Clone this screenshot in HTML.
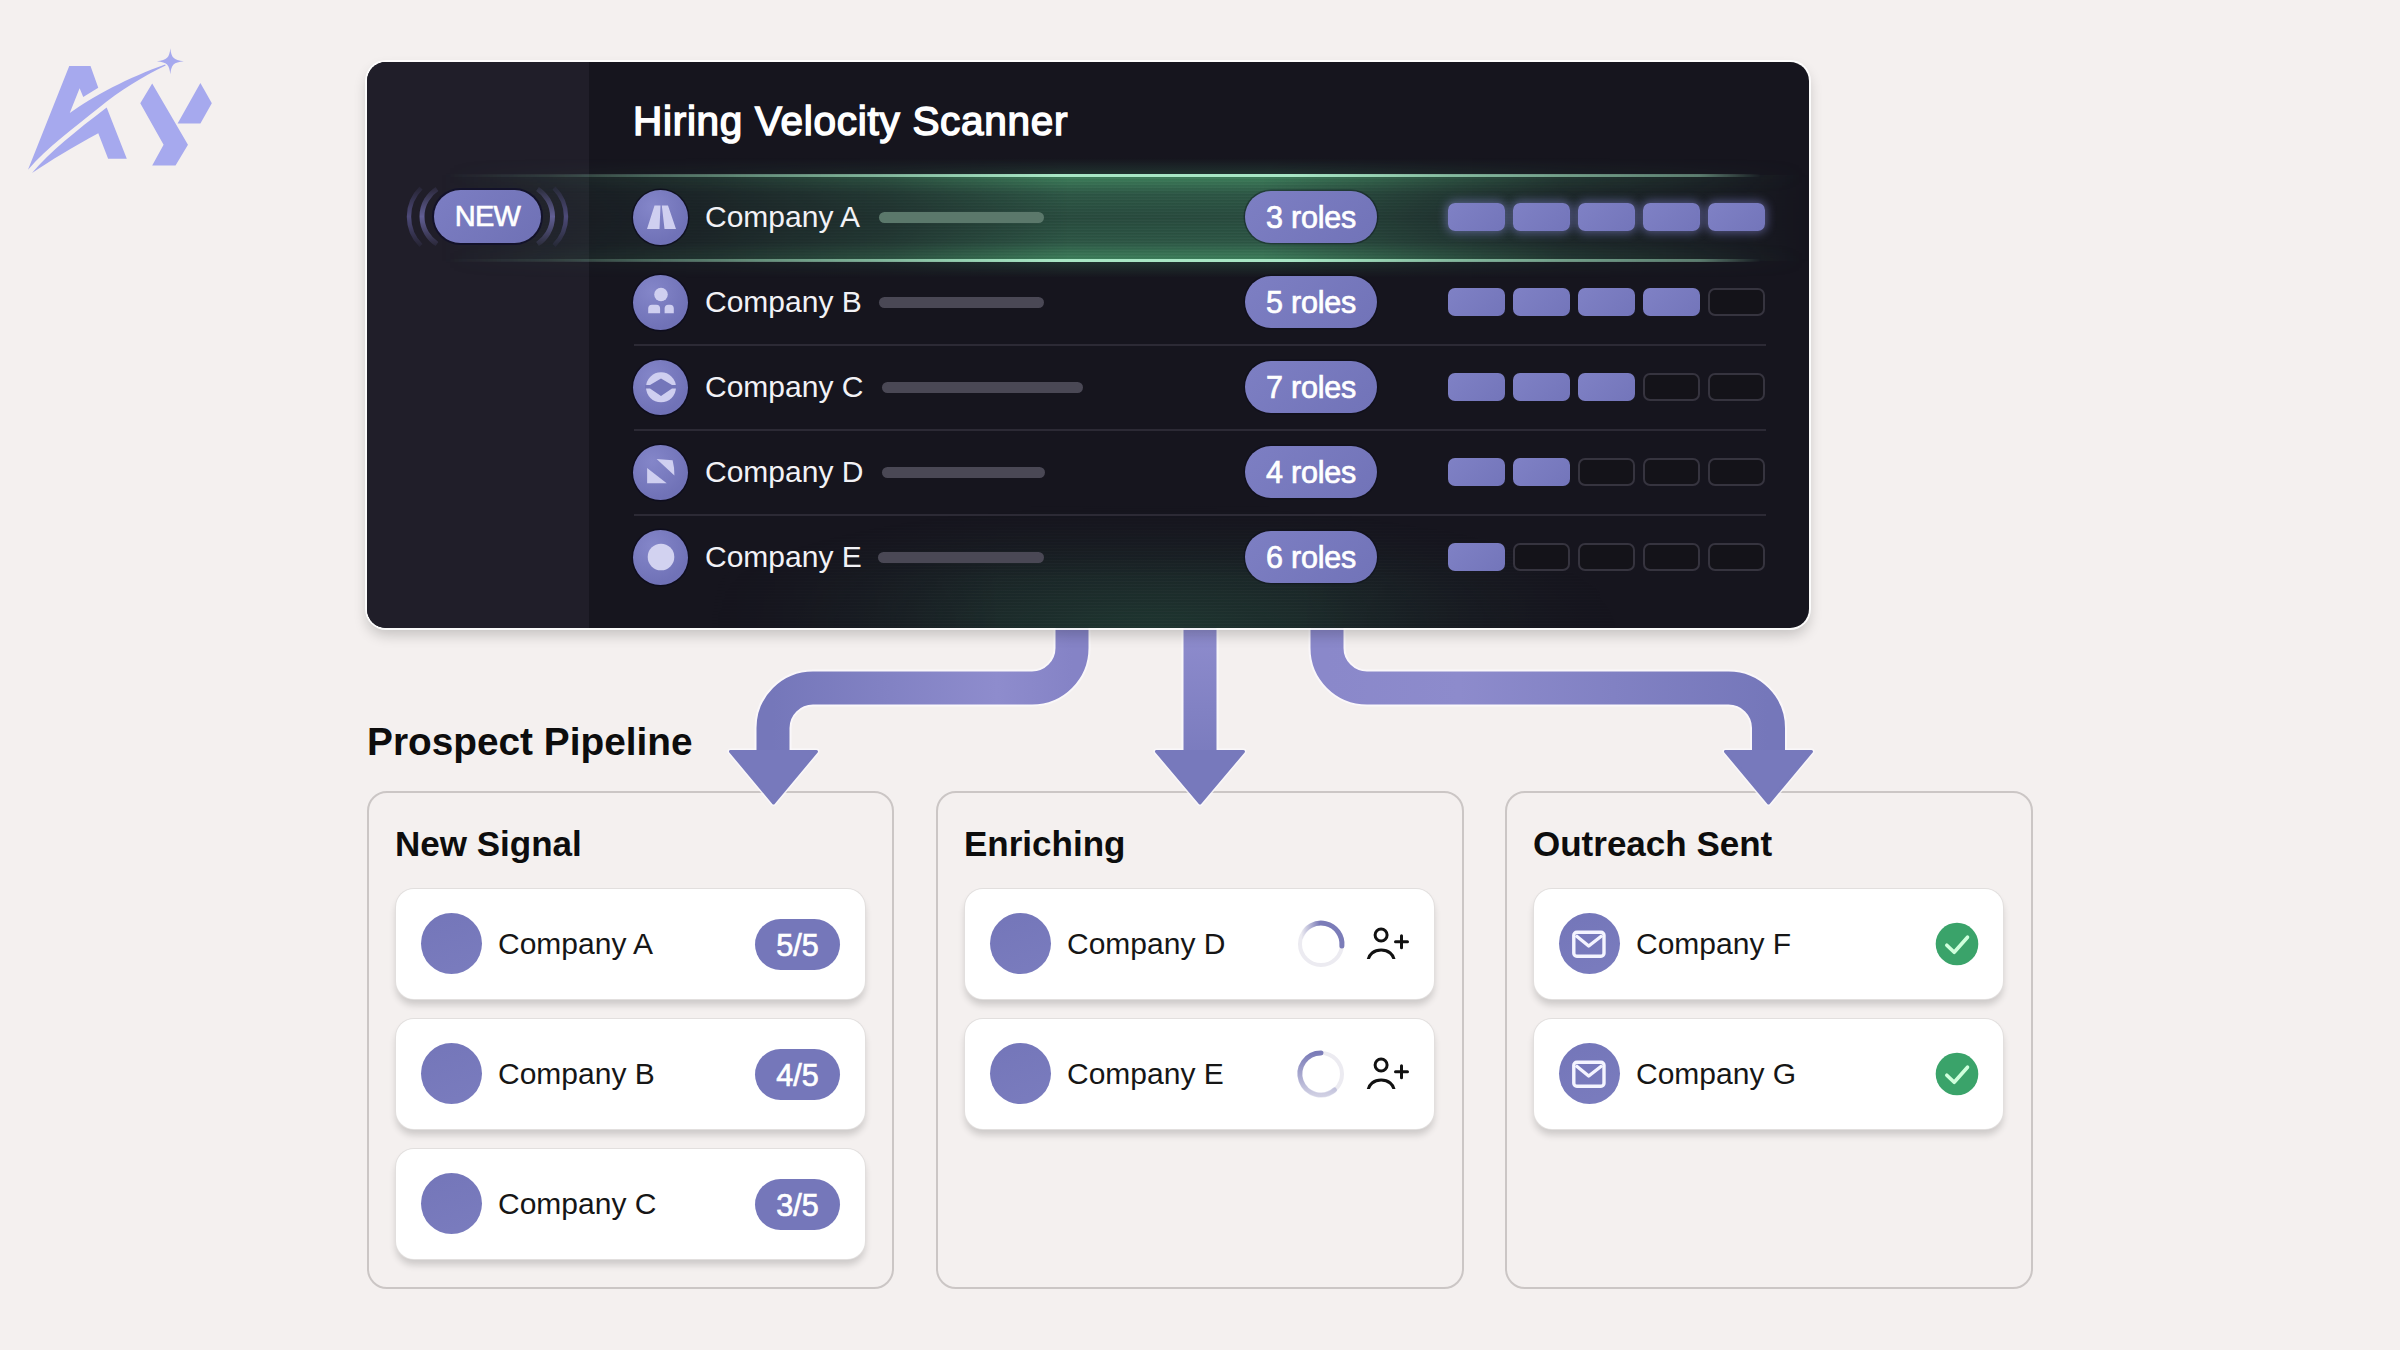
<!DOCTYPE html>
<html><head><meta charset="utf-8">
<style>
*{box-sizing:border-box;margin:0;padding:0}
html,body{width:2400px;height:1350px;overflow:hidden;background:#f4f0ef;font-family:"Liberation Sans",sans-serif;position:relative}
.abs{position:absolute}
#logo{left:20px;top:40px;width:200px;height:140px}
#arrows{left:0;top:0;width:2400px;height:1350px}
#panel{z-index:5;left:367px;top:62px;width:1442px;height:566px;border-radius:19px;background:#16151e;overflow:hidden;box-shadow:0 0 0 2px rgba(255,255,255,.9),0 7px 14px rgba(0,0,0,.2)}
#side{left:0;top:0;width:222px;height:566px;background:#201e29}
.title{left:266px;top:39px;font-size:40.5px;line-height:40px;color:#fff;letter-spacing:0.72px;-webkit-text-stroke:1.5px #fff;white-space:nowrap}
.cname{font-size:30px;line-height:30px;color:#f2f2f6;white-space:nowrap}
.ic{width:55px;height:55px;border-radius:50%;background:radial-gradient(circle at 35% 30%,#8486c9,#7072b7 70%);box-shadow:0 0 0 1.5px rgba(12,11,30,.8)}
.bar{height:11px;border-radius:6px;background:#4a4855}
.pill{width:132px;height:52px;border-radius:26px;background:linear-gradient(135deg,#7d7fc3,#7173b8);color:#fff;font-size:30.5px;line-height:52px;-webkit-text-stroke:0.7px #fff;letter-spacing:-0.2px;text-align:center;white-space:nowrap;box-shadow:0 0 0 1.5px rgba(10,10,25,.35)}
.seg{width:57px;height:28px;border-radius:7px}
.on{background:linear-gradient(135deg,#7f81c5,#7375ba)}
.off{border:2px solid #36343f;background:#141319}
.div{height:2px;background:#2c2a35}
.h2{font-size:38.8px;line-height:38.8px;font-weight:bold;color:#0d0d0d;white-space:nowrap}
.col{height:498.5px;border:2px solid #cbc6c5;border-radius:20px}
.ct{font-size:35px;line-height:35px;font-weight:bold;color:#0d0d0d;white-space:nowrap}
.card{width:469px;height:110px;border-radius:18px;background:#fff;box-shadow:0 0 0 1px #e2dfde,0 6px 7px rgba(0,0,0,.16)}
.cc{left:25px;top:24px;width:61px;height:61px;border-radius:50%;background:linear-gradient(160deg,#7476b9,#7a7cbe)}
.ctext{left:102px;top:40px;font-size:30px;line-height:30px;color:#161616;white-space:nowrap}
.sp{left:359px;top:30px;width:85px;height:51px;border-radius:26px;background:#7577ba;color:#fff;font-size:30.5px;line-height:53px;text-align:center;-webkit-text-stroke:0.7px #fff;letter-spacing:0px}
</style></head>
<body>

<!-- logo -->
<svg id="logo" class="abs" viewBox="0 0 1929 1350">
 <g fill="#a6a9ee">
  <path d="M77 1251 L475 250 L680 250 L755 460 L610 550 L575 465 L480 705 C700 540 1050 360 1400 235 L1405 245 C1200 345 950 490 764 652 C510 858 270 1032 77 1251 Z"/>
  <path d="M116 1283 C290 1078 540 878 836 652 L1030 1145 L850 1145 L755 900 C500 1040 300 1160 116 1283 Z"/>
  <path d="M1450 80 C1460 170 1480 195 1580 205 C1480 215 1460 240 1450 330 C1440 240 1420 215 1320 205 C1420 195 1440 170 1450 80 Z"/>
  <path d="M1275 420 L1160 610 L1385 1010 L1275 1210 L1500 1210 L1620 1010 Z"/>
  <path d="M1740 415 L1850 610 L1740 805 L1520 805 Z"/>
 </g>
</svg>

<!-- panel -->
<div id="panel" class="abs">
 <div id="side" class="abs"></div>
 <div class="abs title">Hiring Velocity Scanner</div>
<div class="abs" style="left:73px;top:96px;width:1369px;height:120px;background:linear-gradient(180deg,rgba(60,130,95,0) 0,rgba(60,130,95,.28) 14%,rgba(60,130,95,0) 30%,rgba(60,130,95,0) 70%,rgba(60,130,95,.28) 86%,rgba(60,130,95,0) 100%);-webkit-mask-image:linear-gradient(90deg,transparent 0,rgba(0,0,0,.15) 11%,rgba(0,0,0,.28) 20%,rgba(0,0,0,.55) 33%,#000 46%,#000 60%,rgba(0,0,0,.6) 72%,rgba(0,0,0,.3) 82%,rgba(0,0,0,.15) 92%,transparent 100%)"></div>
<div class="abs" style="left:73px;top:113px;width:1369px;height:86px;background:repeating-linear-gradient(180deg,rgba(255,255,255,.025) 0 1px,rgba(0,0,0,.035) 1px 2px,transparent 2px 3px),linear-gradient(180deg,rgba(75,160,110,.72) 0%,rgba(62,135,98,.58) 22%,rgba(58,125,92,.52) 50%,rgba(62,135,98,.58) 78%,rgba(75,160,110,.72) 100%);-webkit-mask-image:linear-gradient(90deg,transparent 0,rgba(0,0,0,.15) 11%,rgba(0,0,0,.28) 20%,rgba(0,0,0,.55) 33%,#000 46%,#000 60%,rgba(0,0,0,.6) 72%,rgba(0,0,0,.3) 82%,rgba(0,0,0,.15) 92%,transparent 100%)"></div>
<div class="abs" style="left:73px;top:112px;width:1369px;height:2.5px;background:#a8e6c5;box-shadow:0 0 5px rgba(120,230,160,.7);-webkit-mask-image:linear-gradient(90deg,transparent 0,rgba(0,0,0,.1) 8%,rgba(0,0,0,.3) 15%,rgba(0,0,0,.7) 33%,#000 45%,#000 62%,rgba(0,0,0,.7) 74%,rgba(0,0,0,.45) 92%,transparent 96.5%)"></div>
<div class="abs" style="left:73px;top:197px;width:1369px;height:2.5px;background:#a8e6c5;box-shadow:0 0 5px rgba(120,230,160,.7);-webkit-mask-image:linear-gradient(90deg,transparent 0,rgba(0,0,0,.1) 8%,rgba(0,0,0,.3) 15%,rgba(0,0,0,.7) 33%,#000 45%,#000 62%,rgba(0,0,0,.7) 74%,rgba(0,0,0,.45) 92%,transparent 96.5%)"></div>
<div class="abs" style="left:333px;top:438px;width:1000px;height:130px;background:repeating-linear-gradient(180deg,rgba(255,255,255,.02) 0 1px,transparent 1px 3px),radial-gradient(ellipse 48% 100% at 45% 100%,rgba(50,125,88,.32),rgba(50,125,88,0));-webkit-mask-image:linear-gradient(180deg,transparent 0,#000 60%),linear-gradient(90deg,transparent 0,#000 30%,#000 60%,transparent 100%);-webkit-mask-composite:source-in"></div>
<svg class="abs" style="left:33px;top:118px" width="180" height="75" viewBox="400 180 180 75"><defs><linearGradient id="ag" gradientUnits="userSpaceOnUse" x1="0" y1="187" x2="0" y2="246"><stop offset="0" stop-color="#fff" stop-opacity=".15"/><stop offset=".5" stop-color="#fff" stop-opacity="1"/><stop offset="1" stop-color="#fff" stop-opacity=".15"/></linearGradient><mask id="am"><rect x="400" y="180" width="180" height="75" fill="url(#ag)"/></mask></defs><g fill="none" mask="url(#am)"><path d="M421 188 A40.4 40.4 0 0 0 421 245.5" stroke="#4d4a78" stroke-width="4.4"/><path d="M437 189 A32.7 32.7 0 0 0 437 244" stroke="#625f95" stroke-width="5"/><path d="M537.5 189 A32.7 32.7 0 0 1 537.5 244" stroke="#625f95" stroke-width="5"/><path d="M554 188 A40.4 40.4 0 0 1 554 245.5" stroke="#4d4a78" stroke-width="4.4"/></g></svg>
<div class="abs" style="left:67px;top:128px;width:107px;height:53px;border-radius:27px;background:linear-gradient(135deg,#7c7ec3,#6f71b5);box-shadow:0 0 0 2px #13122a;color:#fff;font-size:29px;line-height:53px;text-align:center;letter-spacing:-0.8px;-webkit-text-stroke:0.6px #fff">NEW</div>
<div class="abs ic" style="left:266px;top:127.5px"></div>
<svg class="abs" style="left:263.5px;top:125px" width="60" height="60" viewBox="-30 -30 60 60"><path d="M-14 12 L-6.5 -11.5 L-0.5 -11.5 L-1.5 12 Z M0.8 -11.5 L7 -11.5 L15 12 L3.5 12 Z" fill="#cfcff0"/></svg>
<div class="abs cname" style="left:338px;top:139.9px">Company A</div>
<div class="abs bar" style="left:512px;top:149.5px;width:165px;background:#5b786b"></div>
<div class="abs pill" style="left:878px;top:129px">3 roles</div>
<div class="abs seg on" style="left:1081px;top:141px;box-shadow:0 0 10px 2px rgba(150,150,240,.45)"></div>
<div class="abs seg on" style="left:1146px;top:141px;box-shadow:0 0 10px 2px rgba(150,150,240,.45)"></div>
<div class="abs seg on" style="left:1211px;top:141px;box-shadow:0 0 10px 2px rgba(150,150,240,.45)"></div>
<div class="abs seg on" style="left:1276px;top:141px;box-shadow:0 0 10px 2px rgba(150,150,240,.45)"></div>
<div class="abs seg on" style="left:1341px;top:141px;box-shadow:0 0 10px 2px rgba(150,150,240,.45)"></div>
<div class="abs ic" style="left:266px;top:212.5px"></div>
<svg class="abs" style="left:263.5px;top:210px" width="60" height="60" viewBox="-30 -30 60 60"><circle cx="0" cy="-7.5" r="6.8" fill="#cfcff0"/><path d="M-12.8 11.2 V6.5 Q-12.8 2.7 -9 2.7 H-4.6 Q-0.9 2.7 -0.9 6.5 V11.2 Z M3.6 11.2 V6.5 Q3.6 2.7 7.3 2.7 H9.1 Q12.8 2.7 12.8 6.5 V11.2 Z" fill="#cfcff0"/></svg>
<div class="abs cname" style="left:338px;top:224.9px">Company B</div>
<div class="abs bar" style="left:512px;top:234.5px;width:165px;background:#4a4855"></div>
<div class="abs pill" style="left:878px;top:214px">5 roles</div>
<div class="abs seg on" style="left:1081px;top:226px"></div>
<div class="abs seg on" style="left:1146px;top:226px"></div>
<div class="abs seg on" style="left:1211px;top:226px"></div>
<div class="abs seg on" style="left:1276px;top:226px"></div>
<div class="abs seg off" style="left:1341px;top:226px"></div>
<div class="abs ic" style="left:266px;top:297.5px"></div>
<svg class="abs" style="left:263.5px;top:295px" width="60" height="60" viewBox="-30 -30 60 60"><circle cx="0" cy="0.3" r="15" fill="#cfcff0"/><path fill="#7476ba" d="M-16 -2 L-11 -2 L0 -8.5 L11 -2 L16 -2 L16 1.5 L11 1.5 L0 9 L-11 1.5 L-16 1.5 Z"/></svg>
<div class="abs cname" style="left:338px;top:309.9px">Company C</div>
<div class="abs bar" style="left:515px;top:319.5px;width:201px;background:#4a4855"></div>
<div class="abs pill" style="left:878px;top:299px">7 roles</div>
<div class="abs seg on" style="left:1081px;top:311px"></div>
<div class="abs seg on" style="left:1146px;top:311px"></div>
<div class="abs seg on" style="left:1211px;top:311px"></div>
<div class="abs seg off" style="left:1276px;top:311px"></div>
<div class="abs seg off" style="left:1341px;top:311px"></div>
<div class="abs ic" style="left:266px;top:382.5px"></div>
<svg class="abs" style="left:263.5px;top:380px" width="60" height="60" viewBox="-30 -30 60 60"><path d="M-13.9 -4.1 L-13.9 11.3 L5.7 11.3 Z" fill="#cfcff0"/><path d="M-4.4 -13 L11.6 -11.8 Q13.6 -4 13.4 3.6 Z" fill="#cfcff0"/></svg>
<div class="abs cname" style="left:338px;top:394.9px">Company D</div>
<div class="abs bar" style="left:515px;top:404.5px;width:163px;background:#4a4855"></div>
<div class="abs pill" style="left:878px;top:384px">4 roles</div>
<div class="abs seg on" style="left:1081px;top:396px"></div>
<div class="abs seg on" style="left:1146px;top:396px"></div>
<div class="abs seg off" style="left:1211px;top:396px"></div>
<div class="abs seg off" style="left:1276px;top:396px"></div>
<div class="abs seg off" style="left:1341px;top:396px"></div>
<div class="abs ic" style="left:266px;top:467.5px"></div>
<svg class="abs" style="left:263.5px;top:465px" width="60" height="60" viewBox="-30 -30 60 60"><circle cx="0" cy="0" r="13.3" fill="#d2d2f0"/></svg>
<div class="abs cname" style="left:338px;top:479.9px">Company E</div>
<div class="abs bar" style="left:511px;top:489.5px;width:166px;background:#4a4855"></div>
<div class="abs pill" style="left:878px;top:469px">6 roles</div>
<div class="abs seg on" style="left:1081px;top:481px"></div>
<div class="abs seg off" style="left:1146px;top:481px"></div>
<div class="abs seg off" style="left:1211px;top:481px"></div>
<div class="abs seg off" style="left:1276px;top:481px"></div>
<div class="abs seg off" style="left:1341px;top:481px"></div>
<div class="abs div" style="left:267px;top:281.5px;width:1132px"></div>
<div class="abs div" style="left:267px;top:367px;width:1132px"></div>
<div class="abs div" style="left:267px;top:452px;width:1132px"></div>
</div>

<!-- pipeline -->
<div class="abs h2" style="left:367px;top:723px">Prospect Pipeline</div>
<div class="abs col" style="left:366.5px;top:790.5px;width:527px"></div>
<div class="abs col" style="left:936.3px;top:790.5px;width:527.3px"></div>
<div class="abs col" style="left:1505.1px;top:790.5px;width:527.8px"></div>
<div class="abs ct" style="left:395px;top:826.4px">New Signal</div>
<div class="abs ct" style="left:964px;top:826.4px">Enriching</div>
<div class="abs ct" style="left:1533px;top:826.4px">Outreach Sent</div>

<!-- arrows -->
<svg id="arrows" class="abs" viewBox="0 0 2400 1350" style="z-index:3">
 <defs>
  <linearGradient id="gl" gradientUnits="userSpaceOnUse" x1="773" y1="0" x2="1072" y2="0"><stop offset="0" stop-color="#7577ba"/><stop offset=".75" stop-color="#8e8ccd"/><stop offset="1" stop-color="#8583c6"/></linearGradient>
  <linearGradient id="gm" gradientUnits="userSpaceOnUse" x1="0" y1="630" x2="0" y2="790"><stop offset="0" stop-color="#8e8ccd"/><stop offset="1" stop-color="#7577ba"/></linearGradient>
  <linearGradient id="gr" gradientUnits="userSpaceOnUse" x1="1327" y1="0" x2="1768" y2="0"><stop offset="0" stop-color="#8a88ca"/><stop offset=".3" stop-color="#8d8bcc"/><stop offset="1" stop-color="#7577ba"/></linearGradient>
 </defs>
 <g fill="none" stroke="#fbf9fc" stroke-width="37" opacity=".8">
  <path d="M1072 600 V648 A40 40 0 0 1 1032 688 H813 A40 40 0 0 0 773 728 V752"/>
  <path d="M1200 600 V752"/>
  <path d="M1327 600 V648 A40 40 0 0 0 1367 688 H1728.5 A40 40 0 0 1 1768.5 728 V752"/>
 </g>
 <g fill="#fbf9fc" stroke="#fbf9fc" stroke-width="6" stroke-linejoin="round" opacity=".8">
  <path d="M730.5 751.5 L816.5 751.5 L773.5 803 Z"/>
  <path d="M1156.5 751.5 L1243.5 751.5 L1200 803 Z"/>
  <path d="M1725.5 751.5 L1811.5 751.5 L1768.5 803 Z"/>
 </g>
 <g fill="none" stroke-width="33">
  <path stroke="url(#gl)" d="M1072 600 V648 A40 40 0 0 1 1032 688 H813 A40 40 0 0 0 773 728 V752"/>
  <path stroke="url(#gm)" d="M1200 600 V752"/>
  <path stroke="url(#gr)" d="M1327 600 V648 A40 40 0 0 0 1367 688 H1728.5 A40 40 0 0 1 1768.5 728 V752"/>
 </g>
 <g fill="#7779bc" stroke="#7779bc" stroke-width="3" stroke-linejoin="round">
  <path d="M730.5 751.5 L816.5 751.5 L773.5 803 Z"/>
  <path d="M1156.5 751.5 L1243.5 751.5 L1200 803 Z"/>
  <path d="M1725.5 751.5 L1811.5 751.5 L1768.5 803 Z"/>
 </g>
</svg>

<div class="abs card" style="left:396px;top:889px"><div class="abs cc"></div><div class="abs ctext">Company A</div><div class="abs sp">5/5</div></div>
<div class="abs card" style="left:396px;top:1019px"><div class="abs cc"></div><div class="abs ctext">Company B</div><div class="abs sp">4/5</div></div>
<div class="abs card" style="left:396px;top:1149px"><div class="abs cc"></div><div class="abs ctext">Company C</div><div class="abs sp">3/5</div></div>
<div class="abs card" style="left:965px;top:889px"><div class="abs cc"></div><div class="abs ctext">Company D</div><svg class="abs" style="left:326px;top:25px" width="60" height="60" viewBox="-30 -30 60 60"><defs><linearGradient id="sg1" x1="0" y1="0" x2="1" y2="0"><stop offset="0" stop-color="#7b7cb8" stop-opacity="0"/><stop offset=".45" stop-color="#7b7cb8"/><stop offset="1" stop-color="#7b7cb8"/></linearGradient><linearGradient id="sg2" x1="0" y1="0" x2="0" y2="1"><stop offset="0" stop-color="#7b7cb8"/><stop offset="1" stop-color="#7b7cb8" stop-opacity=".25"/></linearGradient></defs><circle cx="0" cy="0" r="21" fill="none" stroke="#ecebf1" stroke-width="4"/><path d="M-19.7 -7.2 A21 21 0 0 1 20.9 2" fill="none" stroke="url(#sg1)" stroke-width="5" stroke-linecap="round"/></svg><svg class="abs" style="left:395px;top:20px" width="50" height="50" viewBox="1360 909 50 50" fill="none" stroke="#111" stroke-width="3" stroke-linecap="round"><circle cx="1381.1" cy="935" r="6"/><path d="M1368 962 C1368 946 1394.3 946 1394.3 962"/><path d="M1395.5 941.7 H1407.5 M1401.5 935.7 V947.7"/></svg></div>
<div class="abs card" style="left:965px;top:1019px"><div class="abs cc"></div><div class="abs ctext">Company E</div><svg class="abs" style="left:326px;top:25px" width="60" height="60" viewBox="-30 -30 60 60"><defs><linearGradient id="sg1" x1="0" y1="0" x2="1" y2="0"><stop offset="0" stop-color="#7b7cb8" stop-opacity="0"/><stop offset=".45" stop-color="#7b7cb8"/><stop offset="1" stop-color="#7b7cb8"/></linearGradient><linearGradient id="sg2" x1="0" y1="0" x2="0" y2="1"><stop offset="0" stop-color="#7b7cb8"/><stop offset="1" stop-color="#7b7cb8" stop-opacity=".25"/></linearGradient></defs><circle cx="0" cy="0" r="21" fill="none" stroke="#ecebf1" stroke-width="4"/><path d="M0 -21 A21 21 0 1 0 13.5 16" fill="none" stroke="url(#sg2)" stroke-width="5" stroke-linecap="round"/></svg><svg class="abs" style="left:395px;top:20px" width="50" height="50" viewBox="1360 909 50 50" fill="none" stroke="#111" stroke-width="3" stroke-linecap="round"><circle cx="1381.1" cy="935" r="6"/><path d="M1368 962 C1368 946 1394.3 946 1394.3 962"/><path d="M1395.5 941.7 H1407.5 M1401.5 935.7 V947.7"/></svg></div>
<div class="abs card" style="left:1534px;top:889px"><div class="abs cc"></div><svg class="abs" style="left:25px;top:25px" width="60" height="60" viewBox="-30 -30 60 60" fill="none" stroke="#f4f4ff" stroke-width="3.4" stroke-linejoin="round"><rect x="-15.2" y="-11.8" width="30.2" height="24" rx="3"/><path d="M-13.2 -8.5 L-0.3 2 L13.2 -8.5"/></svg><div class="abs ctext">Company F</div><svg class="abs" style="left:393px;top:24.5px" width="60" height="60" viewBox="-30 -30 60 60"><circle r="21.3" fill="#3aa36a"/><path d="M-10.2 1.2 L-2.8 8.3 L10.5 -6.8" fill="none" stroke="#cfffdc" stroke-width="3.6" stroke-linecap="round" stroke-linejoin="round"/></svg></div>
<div class="abs card" style="left:1534px;top:1019px"><div class="abs cc"></div><svg class="abs" style="left:25px;top:25px" width="60" height="60" viewBox="-30 -30 60 60" fill="none" stroke="#f4f4ff" stroke-width="3.4" stroke-linejoin="round"><rect x="-15.2" y="-11.8" width="30.2" height="24" rx="3"/><path d="M-13.2 -8.5 L-0.3 2 L13.2 -8.5"/></svg><div class="abs ctext">Company G</div><svg class="abs" style="left:393px;top:24.5px" width="60" height="60" viewBox="-30 -30 60 60"><circle r="21.3" fill="#3aa36a"/><path d="M-10.2 1.2 L-2.8 8.3 L10.5 -6.8" fill="none" stroke="#cfffdc" stroke-width="3.6" stroke-linecap="round" stroke-linejoin="round"/></svg></div>
</body></html>
